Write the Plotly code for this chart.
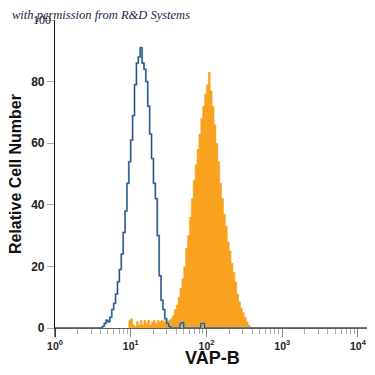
import plotly.graph_objects as go

# Histogram bins: left edges in log10(fluorescence), fixed bin width
BIN_W = 0.025

# Isotype control (blue outline)
blue_start = 0.600
blue_counts = [0, 0.5, 1.5, 2.5, 2.0, 3.5, 6, 8, 11, 15, 19, 24, 31, 38, 47, 54,
               61, 69, 79, 86, 88, 91, 86, 84, 80, 72, 63, 55, 47, 42, 30, 17,
               9, 6, 3, 1.5, 0.5, 0, 0, 0, 0, 0, 1.5, 1.8, 0, 0, 0, 0, 0, 0,
               0, 0, 0, 1.5, 1.5, 0, 0]

# VAP-B stained (orange filled)
orange_start = 0.950
orange_counts = [0, 2.5, 3, 1, 0.5, 2, 1, 2.5, 1, 2.5, 1.5, 2.5, 1, 2, 2.5, 1.5,
                 2.5, 2, 2.5, 2, 2.5, 2, 2.5, 3, 4, 6, 7.5, 10, 13, 16, 20, 26,
                 30, 36, 42, 48, 53, 58, 63, 68, 72, 76, 79, 83, 77, 72, 66, 60,
                 54, 47, 42, 37, 33, 28, 25, 21, 18, 15, 11, 8.5, 6.5, 5, 3.5,
                 2, 1, 0]

x_tickvals = [1, 10, 100, 1000, 10000]
x_ticktext = ["<b>10<sup>0</sup></b>", "<b>10<sup>1</sup></b>", "<b>10<sup>2</sup></b>",
              "<b>10<sup>3</sup></b>", "<b>10<sup>4</sup></b>"]
y_tickvals = [0, 20, 40, 60, 80, 100]
y_ticktext = ["<b>0</b>", "<b>20</b>", "<b>40</b>", "<b>60</b>", "<b>80</b>", ""]

X_MIN_LOG, X_MAX_LOG = 0.0, 4.12


def step_xy(start, counts, pad=True):
    xs, ys = [], []
    if pad:
        xs.append(10 ** X_MIN_LOG)
        ys.append(0)
    for i, c in enumerate(counts):
        xs.append(10 ** (start + i * BIN_W))
        ys.append(c)
    xs.append(10 ** (start + len(counts) * BIN_W))
    ys.append(0)
    if pad:
        xs.append(10 ** X_MAX_LOG)
        ys.append(0)
    return xs, ys


fig = go.Figure()

ox, oy = step_xy(orange_start, orange_counts, pad=False)
fig.add_trace(go.Scatter(x=ox, y=oy, mode="lines", line=dict(shape="hv", width=0.5, color="#F7A11E"),
                         fill="tozeroy", fillcolor="#F8A220", hoverinfo="skip", showlegend=False))

bx, by = step_xy(blue_start, blue_counts, pad=True)
fig.add_trace(go.Scatter(x=bx, y=by, mode="lines", line=dict(shape="hv", width=2.0, color="#7aa9d2"),
                         hoverinfo="skip", showlegend=False))
fig.add_trace(go.Scatter(x=bx, y=by, mode="lines", line=dict(shape="hv", width=0.9, color="#1c4165"),
                         hoverinfo="skip", showlegend=False))

# The page adds an 8px body margin; keep the figure inside the visible page
fig.update_layout(
    width=359, height=359,
    margin=dict(l=47, r=0, t=12, b=39),
    paper_bgcolor="white", plot_bgcolor="white",
    font=dict(family="Liberation Sans, Arial", color="#222"),
    xaxis=dict(type="log", range=[X_MIN_LOG, X_MAX_LOG], tickvals=x_tickvals, ticktext=x_ticktext,
               ticks="outside", ticklen=8, tickcolor="#888", tickwidth=1,
               minor=dict(ticks="outside", ticklen=5, tickcolor="#aaa", dtick="D1", showgrid=False),
               showline=True, linecolor="#6a5e48", linewidth=1.2,
               showgrid=False, zeroline=False, ticklabeloverflow="allow",
               tickfont=dict(size=10.5, family="Liberation Sans, Arial", color="#222"),
               fixedrange=True),
    yaxis=dict(range=[0, 100], tickvals=y_tickvals, ticktext=y_ticktext,
               ticks="outside", ticklen=7, tickcolor="#aaa", tickwidth=1,
               showline=True, linecolor="#111", linewidth=1.2,
               showgrid=False, zeroline=False,
               tickfont=dict(size=12, family="Liberation Sans, Arial", color="#222"),
               fixedrange=True),
)

# y-axis line extension below zero
fig.add_shape(type="line", xref="paper", yref="paper", x0=0, x1=0, y0=0, y1=-0.03,
              line=dict(color="#111", width=1.2))

fig.add_annotation(text="<b>VAP-B</b>", xref="paper", yref="paper", x=0.505, y=-0.096,
                   yanchor="middle", showarrow=False, font=dict(size=18, family="Liberation Sans, Arial", color="#111"))
fig.add_annotation(text="<b>Relative Cell Number</b>", xref="paper", yref="paper", x=-0.128, y=0.5,
                   textangle=-90, showarrow=False, xanchor="center",
                   font=dict(size=16, family="Liberation Sans, Arial", color="#111"))
fig.add_annotation(text="100", xref="paper", yref="y", x=-0.005, y=100, xanchor="right", yanchor="middle",
                   showarrow=False, font=dict(size=12, family="Liberation Serif", color="#111"))
fig.add_annotation(text="<i>with permission from R&amp;D Systems</i>", xref="paper", yref="paper",
                   x=-0.145, y=1.016, xanchor="left", yanchor="middle", showarrow=False,
                   font=dict(size=12.5, family="Liberation Serif", color="#1a2747"))

fig.write_html("out.html")
